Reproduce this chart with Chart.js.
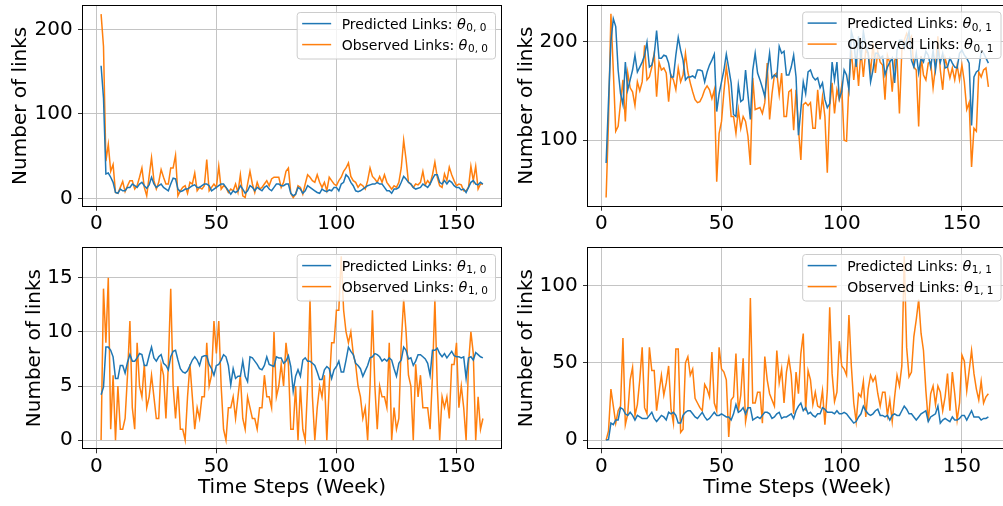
<!DOCTYPE html>
<html>
<head>
<meta charset="utf-8">
<script src="https://cdn.jsdelivr.net/npm/chart.js@4/dist/chart.umd.min.js"></script>
<style>
  html, body { margin: 0; padding: 0; background: #fff; width: 1003px; height: 506px; overflow: hidden; }
  canvas { position: absolute; }
</style>
</head>
<body>
<canvas id="c00" width="510" height="240" style="left:0px;top:0px"></canvas>
<canvas id="c01" width="510" height="240" style="left:505px;top:0px"></canvas>
<canvas id="c10" width="510" height="266" style="left:0px;top:240px"></canvas>
<canvas id="c11" width="510" height="266" style="left:505px;top:240px"></canvas>
<script>
// Weekly time steps shared by all four panels
const weeks = Array.from({ length: 160 }, (_, k) => k + 2);
const xTicks = [0, 50, 100, 150];

// theta(0,0)
const predicted00 = [
  157,119,29,30,25,19,7,6,11,9,
  9,13,13,17,15,13,17,19,15,12,
  16,25,17,13,15,17,13,11,9,17,
  24,23,11,8,9,11,11,13,15,16,
  13,13,15,17,17,15,9,11,13,15,
  17,17,13,9,5,9,7,9,15,11,
  6,9,15,13,9,13,11,9,13,15,
  11,9,13,17,17,15,15,17,17,6,
  3,5,13,11,6,9,15,13,11,9,
  7,6,11,9,8,10,9,13,13,9,
  17,19,28,25,19,15,9,8,9,11,
  13,15,16,17,17,19,17,17,13,9,
  9,6,11,11,13,19,26,23,19,17,
  13,11,12,13,17,15,13,17,23,28,
  28,19,17,21,17,21,19,15,13,13,
  10,11,7,13,19,21,17,16,19,17
];
const observed00 = [
  218,180,44,64,32,40,7,6,13,20,
  8,15,21,21,11,15,25,36,13,3,
  26,48,21,11,19,34,25,17,17,36,
  36,51,3,9,13,15,6,19,17,30,
  9,13,11,15,46,9,13,17,13,38,
  11,15,13,7,11,9,17,7,28,3,
  1,17,32,17,7,19,11,13,17,21,
  15,23,25,25,25,13,19,32,36,6,
  1,5,15,13,5,17,28,25,21,19,
  28,19,13,19,9,25,21,17,15,21,
  25,32,36,42,26,21,19,13,17,15,
  11,21,36,26,23,19,26,19,28,19,
  15,11,15,13,19,36,69,46,19,17,
  13,17,16,19,32,16,21,17,28,43,
  25,15,13,29,21,37,28,21,15,17,
  16,9,9,13,38,21,38,11,17,17
];
const yTicks00 = [0, 100, 200];

// theta(0,1)
const predicted01 = [
  77,140,200,223,215,171,147,136,179,151,
  161,171,186,169,174,179,186,199,174,176,
  186,211,183,183,186,185,178,164,164,186,
  204,191,181,161,164,164,165,163,171,171,
  170,159,169,176,181,187,129,147,159,171,
  187,173,158,126,124,156,139,141,171,146,
  121,171,188,168,161,153,144,169,188,163,
  166,164,195,188,190,166,166,174,186,164,
  105,131,159,147,169,171,164,161,163,153,
  158,141,133,137,179,161,179,142,149,171,
  166,151,210,201,174,205,181,210,195,188,
  159,171,188,188,183,185,166,174,179,183,
  158,191,201,201,193,201,210,181,174,188,
  168,183,179,190,186,174,191,171,191,179,
  188,173,174,183,178,174,173,188,191,186,
  183,178,115,164,169,171,190,188,183,178
];
const observed01 = [
  42,120,228,170,109,114,138,161,119,168,
  153,149,135,159,150,159,196,161,164,174,
  188,144,179,171,173,168,139,166,161,151,
  173,159,166,188,169,158,149,141,138,139,
  144,151,155,151,142,151,58,107,119,149,
  174,155,124,124,107,131,112,124,119,104,
  75,163,131,132,133,127,138,178,121,147,
  166,168,146,168,124,124,149,151,110,151,
  112,80,136,138,135,138,112,112,151,121,
  144,124,67,134,158,127,151,141,155,100,
  99,158,191,161,185,155,191,164,191,188,
  169,198,168,190,179,176,141,186,178,149,
  181,183,127,191,201,208,201,205,174,171,
  114,185,166,161,178,179,153,174,205,171,
  151,183,174,163,173,161,176,161,176,159,
  131,138,73,112,109,169,164,171,173,154
];
const yTicks01 = [100, 200];

// theta(1,0)
const predicted10 = [
  4.2,4.9,8.6,8.6,8.3,7.7,5.7,5.7,6.9,6.9,
  6.2,7.2,7.9,7.3,7.3,7.6,8.0,7.9,6.9,6.9,
  7.8,8.6,7.6,7.3,7.7,7.9,7.1,6.9,6.5,7.7,
  8.2,8.3,7.4,6.6,6.3,6.2,6.4,6.9,7.4,7.7,
  7.4,6.9,7.7,7.8,7.8,7.0,6.6,6.0,6.9,7.0,
  7.4,7.9,7.7,6.9,5.1,6.6,5.7,5.9,5.9,7.3,
  5.9,5.4,7.7,7.6,7.3,7.0,6.6,6.5,6.9,7.7,
  7.0,6.9,6.8,7.7,7.6,7.6,7.1,7.3,7.8,6.8,
  4.5,5.9,6.5,5.9,7.4,7.6,7.3,7.3,7.1,6.9,
  6.3,5.6,5.6,6.5,6.8,6.6,5.7,6.5,6.8,7.3,
  6.3,6.3,7.4,8.6,8.2,7.9,7.1,6.9,6.6,5.9,
  6.4,6.9,7.6,7.7,8.0,7.9,7.7,7.3,7.5,7.3,
  7.6,7.4,6.6,5.9,7.1,7.4,8.6,8.3,7.5,7.6,
  6.9,7.3,7.9,7.9,7.7,7.5,7.1,6.0,8.3,8.3,
  8.5,8.0,7.7,8.0,7.6,7.9,8.2,7.8,7.7,7.7,
  7.6,7.7,5.7,7.6,7.7,7.4,8.1,7.9,7.7,7.6
];
const observed10 = [
  0,14,9,15,1,6,0,5,1,1,
  2,6,11,3,1,9,5,4,7,3,
  4,6,4,2,2,7,6,2,7,14,
  5,2,5,1,1,0,4,7,4,1,
  3,2,4,4,9,5,6,11,8,11,
  5,1,0,3,3,4,2,4,6,2,
  1,4,3,2,2,1,3,3,6,4,
  4,3,10,4,5,7,5,9,7,1,
  1,5,0,5,1,0,5,13,4,0,
  3,5,4,6,0,5,9,9,12,12,
  17,12,10,9,10,8,7,5,4,2,
  3,0,5,12,5,1,5,4,4,3,
  9,0,3,1,2,9,13,10,6,5,
  0,7,4,6,3,3,3,1,6,13,
  5,0,4,3,4,2,7,7,9,3,
  5,3,0,7,10,8,0,4,1,2
];
const yTicks10 = [0, 5, 10, 15];

// theta(1,1)
const predicted11 = [
  0,0.4,11,10,13,13,21,20,17,16,
  18,16,13,16,15,14,14,14,16,18,
  14,12,14,16,15,13,18,17,18,16,
  11,11,16,18,19,19,17,15,14,16,
  18,15,13,14,16,18,16,16,17,16,
  15,15,13,17,23,18,19,21,17,21,
  21,13,14,15,14,16,18,18,17,14,
  15,17,18,14,15,15,16,17,14,19,
  22,24,19,21,17,18,16,15,17,17,
  21,20,18,18,18,17,19,17,17,18,
  17,15,13,11,12,15,17,22,19,17,
  16,17,19,20,16,16,15,16,13,16,
  17,16,16,19,22,20,17,17,15,13,
  15,17,18,19,12,15,16,17,22,11,
  13,14,13,12,15,13,13,14,16,16,
  13,16,19,15,15,15,13,14,14,15
];
const observed11 = [
  0,6,33,22,11,19,22,66,10,17,
  39,47,16,23,39,60,21,17,60,45,
  45,19,31,42,29,37,48,20,11,59,
  59,5,7,50,54,42,46,27,24,21,
  19,36,33,28,57,24,19,60,46,44,
  39,2,26,28,56,19,29,53,12,21,
  92,24,24,31,31,11,54,39,30,26,
  22,58,37,46,24,44,53,42,17,44,
  30,56,69,19,45,39,23,31,22,21,
  32,10,32,86,43,25,31,64,48,46,
  42,81,48,24,12,30,28,38,15,33,
  42,38,41,30,22,31,31,16,26,12,
  28,42,35,48,119,60,41,44,67,78,
  91,69,58,32,12,30,35,23,35,31,
  19,28,43,19,44,30,13,24,55,51,
  32,45,58,43,33,26,38,24,28,30
];
const yTicks11 = [0, 50, 100];

const FONT = 'DejaVu Sans';
const BLUE = '#1f77b4';
const ORANGE = '#ff7f0e';

// Full black frame around the plotting area
const axesFrame = {
  id: 'axesFrame',
  afterDatasetsDraw(chart) {
    const { ctx, chartArea: a } = chart;
    ctx.save();
    ctx.strokeStyle = '#000';
    ctx.lineWidth = 1;
    const l = Math.round(a.left) + 0.5, t = Math.round(a.top) + 0.5;
    const r = Math.round(a.right) - 0.5, b = Math.round(a.bottom) - 0.5;
    ctx.strokeRect(l, t, r - l, b - t);
    ctx.restore();
  }
};

// Legend in the upper-right corner with a theta subscript label
const thetaLegend = {
  id: 'thetaLegend',
  afterDatasetsDraw(chart, args, opts) {
    const { ctx, chartArea: a } = chart;
    const mainFont = '14px "' + FONT + '"';
    const thetaFont = 'italic 14.5px "' + FONT + '"';
    const subFont = '10.5px "' + FONT + '"';
    ctx.save();
    const rows = chart.data.datasets.map(ds => {
      ctx.font = mainFont; const w1 = ctx.measureText(ds.label).width;
      ctx.font = thetaFont; const w2 = ctx.measureText('\u03b8').width;
      ctx.font = subFont; const w3 = ctx.measureText(opts.sub).width;
      return { ds, w1, w2, w3 };
    });
    const textW = Math.max(...rows.map(r => r.w1 + r.w2 + r.w3 + 1));
    const padL = 5.5, lineLen = 29, gap = 10.5, padR = 6.5;
    const boxW = padL + lineLen + gap + textW + padR;
    const boxH = 46.5;
    const right = a.right - 7, top = a.top + 7;
    const left = right - boxW;
    ctx.beginPath();
    ctx.roundRect(left + 0.5, top + 0.5, boxW, boxH, 3);
    ctx.fillStyle = 'rgba(255,255,255,0.8)';
    ctx.fill();
    ctx.strokeStyle = '#cccccc';
    ctx.lineWidth = 1;
    ctx.stroke();
    rows.forEach((r, k) => {
      const cy = top + 11.6 + k * 21;
      ctx.beginPath();
      ctx.strokeStyle = r.ds.borderColor;
      ctx.lineWidth = 1.5;
      ctx.moveTo(left + padL, cy);
      ctx.lineTo(left + padL + lineLen, cy);
      ctx.stroke();
      let x = left + padL + lineLen + gap;
      const base = cy + 5.2;
      ctx.fillStyle = '#000';
      ctx.textBaseline = 'alphabetic';
      ctx.textAlign = 'left';
      ctx.font = mainFont; ctx.fillText(r.ds.label, x, base); x += r.w1;
      ctx.font = thetaFont; ctx.fillText('\u03b8', x, base); x += r.w2 + 0.5;
      ctx.font = subFont; ctx.fillText(opts.sub, x, base + 2.5);
    });
    ctx.restore();
  }
};

function makePanel(id, pred, obs, yTicks, sub, geom) {
  const xMin = Math.min(...weeks), xMax = Math.max(...weeks);
  const all = pred.concat(obs);
  const lo = Math.min(...all), hi = Math.max(...all);
  const mx = 0.05 * (xMax - xMin), my = 0.05 * (hi - lo);
  const tickFont = { family: FONT, size: 20 };
  return new Chart(document.getElementById(id), {
    type: 'line',
    data: {
      datasets: [
        { label: 'Predicted Links: ', data: weeks.map((w, k) => ({ x: w, y: pred[k] })),
          borderColor: BLUE, borderWidth: 1.5, pointRadius: 0, tension: 0, fill: false },
        { label: 'Observed Links: ', data: weeks.map((w, k) => ({ x: w, y: obs[k] })),
          borderColor: ORANGE, borderWidth: 1.5, pointRadius: 0, tension: 0, fill: false }
      ]
    },
    options: {
      responsive: false,
      animation: false,
      devicePixelRatio: 1,
      layout: { padding: { top: geom.padTop, right: geom.padRight, left: 0, bottom: 0 } },
      plugins: { legend: { display: false }, tooltip: { enabled: false }, thetaLegend: { sub } },
      scales: {
        x: {
          type: 'linear', min: xMin - mx, max: xMax + mx,
          afterBuildTicks: s => { s.ticks = xTicks.map(v => ({ value: v })); },
          afterFit: s => { s.height = geom.xAxisH; s.paddingLeft = 0; s.paddingRight = 0; s.paddingTop = 0; s.paddingBottom = 0; },
          grid: { color: '#c4c4c4', lineWidth: 1, tickLength: 4, tickColor: '#333', drawTicks: true },
          border: { display: false },
          ticks: { font: tickFont, color: '#000', padding: 1.5, maxRotation: 0, autoSkip: false },
          title: { display: !!geom.xTitle, text: 'Time Steps (Week)', color: '#000',
                   font: { family: FONT, size: 20 }, padding: { top: 0, bottom: 6.4 } }
        },
        y: {
          type: 'linear', min: lo - my, max: hi + my,
          afterBuildTicks: s => { s.ticks = yTicks.map(v => ({ value: v })); },
          afterFit: s => { s.width = 82; s.paddingLeft = 0; s.paddingRight = 0; s.paddingTop = 0; s.paddingBottom = 0; },
          grid: { color: '#c4c4c4', lineWidth: 1, tickLength: 4, tickColor: '#333', drawTicks: true },
          border: { display: false },
          ticks: { font: tickFont, color: '#000', padding: 5.3 },
          title: { display: true, text: 'Number of links', color: '#000',
                   font: { family: FONT, size: 20 }, padding: { top: geom.yTitlePad, bottom: 0 } }
        }
      }
    },
    plugins: [axesFrame, thetaLegend]
  });
}

makePanel('c00', predicted00, observed00, yTicks00, '0, 0',
  { padTop: 5, padRight: 8, xAxisH: 33.3, yTitlePad: 9, xTitle: false });
makePanel('c01', predicted01, observed01, yTicks01, '0, 1',
  { padTop: 4.5, padRight: 7.5, xAxisH: 33.3, yTitlePad: 9.3, xTitle: false });
makePanel('c10', predicted10, observed10, yTicks10, '1, 0',
  { padTop: 7, padRight: 8, xAxisH: 56.7, yTitlePad: 22.5, xTitle: true });
makePanel('c11', predicted11, observed11, yTicks11, '1, 1',
  { padTop: 7, padRight: 7.5, xAxisH: 56.7, yTitlePad: 9.3, xTitle: true });
</script>
</body>
</html>
